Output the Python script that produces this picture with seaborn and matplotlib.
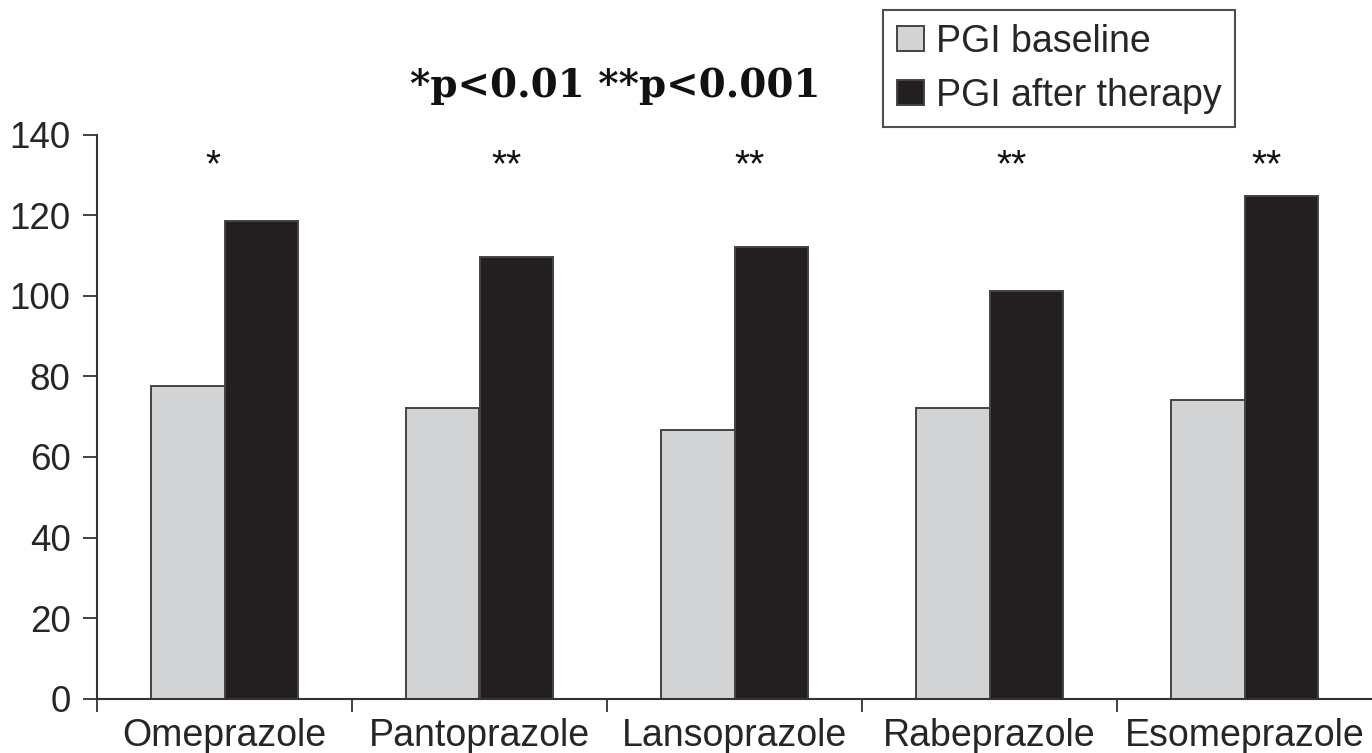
import numpy as np
import pandas as pd
import matplotlib
matplotlib.use("Agg")
import matplotlib.pyplot as plt
import seaborn as sns

# ---- data ----
drugs = ["Omeprazole", "Pantoprazole", "Lansoprazole", "Rabeprazole", "Esomeprazole"]
series_names = ["PGI baseline", "PGI after therapy"]
pgi_baseline = [77.7, 72.2, 66.8, 72.2, 74.2]
pgi_after = [118.7, 109.7, 112.2, 101.2, 124.7]
significance = ["*", "**", "**", "**", "**"]
sig_offsets = [-0.045, 0.108, 0.061, 0.088, 0.088]
y_ticks = [0, 20, 40, 60, 80, 100, 120, 140]
title_text = "*p<0.01 **p<0.001"

df = pd.DataFrame({
    "drug": drugs * 2,
    "series": [series_names[0]] * len(drugs) + [series_names[1]] * len(drugs),
    "value": pgi_baseline + pgi_after,
})

sns.set_style("white")
plt.rcParams["font.family"] = ["Liberation Sans", "DejaVu Sans"]

fig = plt.figure(figsize=(13.72, 7.53), dpi=100)
ax = fig.add_axes([97 / 1372, 1 - 698.7 / 753, 1 - 97 / 1372, (698.7 - 134.7) / 753])

palette = {series_names[0]: "#d2d3d5", series_names[1]: "#231f20"}
sns.barplot(data=df, x="drug", y="value", hue="series", order=drugs,
            hue_order=series_names, palette=palette, width=0.58,
            edgecolor="#444444", linewidth=1.4, saturation=1, ax=ax, errorbar=None)

ax.set_xlim(-0.5, len(drugs) - 0.5)
ax.set_ylim(0, 140)
ax.set_yticks(y_ticks)
ax.set_xlabel("")
ax.set_ylabel("")

for s in ["top", "right"]:
    ax.spines[s].set_visible(False)
for s in ["left", "bottom"]:
    ax.spines[s].set_linewidth(1.5)
    ax.spines[s].set_color("#333333")

ax.tick_params(axis="y", direction="out", length=10, width=1.3, color="#333333",
               labelsize=26.5, pad=9, left=True)
ax.tick_params(axis="x", which="major", length=0, labelsize=27, pad=14)
ax.set_xticks(np.arange(-0.5, len(drugs) - 0.5, 1.0), minor=True)
ax.tick_params(axis="x", which="minor", direction="out", length=9, width=1.3,
               color="#333333", bottom=True)

# significance markers
for i, (sig, off) in enumerate(zip(significance, sig_offsets)):
    ax.text(i + off, 129.7, sig, ha="center", va="baseline", fontsize=28,
            color="#111111")

# title
fig.text(615 / 1372, 1 - 97 / 753, title_text, ha="center", va="baseline",
         fontsize=28, fontweight="bold", family=["DejaVu Serif"], color="#111111")

# legend
handles, labels = ax.get_legend_handles_labels()
if ax.get_legend() is not None:
    ax.get_legend().remove()
leg = fig.legend(handles, labels, loc="upper left",
                 bbox_to_anchor=(883 / 1372, 1 - 10 / 753), fontsize=27,
                 frameon=True, fancybox=False, shadow=False, borderpad=0.36,
                 handlelength=0.72, handleheight=0.67, handletextpad=0.32,
                 labelspacing=0.48, borderaxespad=0)
leg.get_frame().set_edgecolor("#222222")
leg.get_frame().set_linewidth(1.5)

fig.savefig("out.png", dpi=100)
